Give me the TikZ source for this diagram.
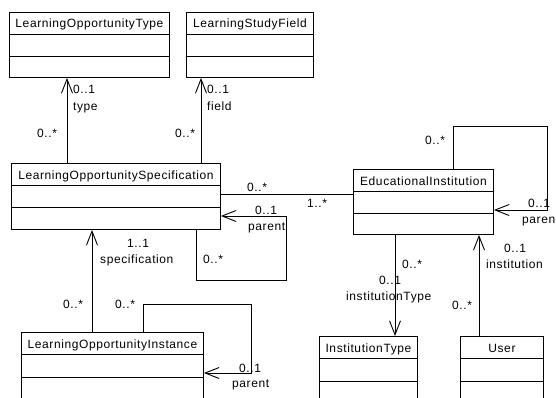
\documentclass[tikz,border=0pt]{standalone}
\usepackage{fontspec}
\setmainfont{Liberation Sans}[LetterSpace=5]
\usetikzlibrary{arrows.meta}
\tikzset{
  clsbox/.style={draw, line width=0.9pt, inner sep=0pt, anchor=north west},
  clstitle/.style={inner sep=0pt, anchor=base, font=\fontsize{12pt}{14pt}\selectfont},
  lbl/.style={inner sep=0pt, anchor=base west, font=\fontsize{12pt}{14pt}\selectfont},
  assoc/.style={draw, line width=0.9pt},
  nav/.style={assoc, -{Straight Barb[length=14pt,width=11pt,line width=0.9pt]}}
}
\newcommand\comp[2]{%
  \draw[line width=0.9pt] ([yshift=-#2pt]#1.north west) -- ([yshift=-#2pt]#1.north east);}
\begin{document}
\begin{tikzpicture}[x=1pt,y=-1pt]
\useasboundingbox (0,0) rectangle (556,398);
\clip (0,0) rectangle (556,398);
% classes
\node[clsbox, minimum width=160pt, minimum height=65pt] (lot) at (9,12) {};
\node[clstitle] at ([yshift=-16pt]lot.north) {LearningOpportunityType};
\comp{lot}{22}\comp{lot}{44}

\node[clsbox, minimum width=127pt, minimum height=65pt] (lsf) at (186,12) {};
\node[clstitle] at ([yshift=-16pt]lsf.north) {LearningStudyField};
\comp{lsf}{22}\comp{lsf}{44}

\node[clsbox, minimum width=209pt, minimum height=66pt] (los) at (11,163) {};
\node[clstitle] at ([yshift=-16pt]los.north) {LearningOpportunitySpecification};
\comp{los}{22}\comp{los}{44}

\node[clsbox, minimum width=140pt, minimum height=65pt] (ei) at (353,169) {};
\node[clstitle] at ([yshift=-16pt]ei.north) {EducationalInstitution};
\comp{ei}{22}\comp{ei}{44}

\node[clsbox, minimum width=182pt, minimum height=70pt] (loi) at (21,332) {};
\node[clstitle] at ([yshift=-16pt]loi.north) {LearningOpportunityInstance};
\comp{loi}{22}\comp{loi}{45}

\node[clsbox, minimum width=98pt, minimum height=70pt] (it) at (319,336) {};
\node[clstitle] at ([yshift=-16pt]it.north) {InstitutionType};
\comp{it}{22}\comp{it}{45}

\node[clsbox, minimum width=83pt, minimum height=70pt] (usr) at (460,336) {};
\node[clstitle] at ([yshift=-16pt]usr.north) {User};
\comp{usr}{22}\comp{usr}{45}

% helper coordinates
\coordinate (xa) at (67,0);
\coordinate (xb) at (201,0);
\coordinate (xc) at (92,0);
\coordinate (xd) at (395,0);
\coordinate (xe) at (479,0);
\coordinate (ylink) at (0,194);
\coordinate (m1) at (196,280);
\coordinate (m2) at (286,216);
\coordinate (n1) at (143,304);
\coordinate (n2) at (251,373);
\coordinate (k1) at (453,126);
\coordinate (k2) at (547,210);

% connectors
\draw[nav] (los.north -| xa) -- (lot.south -| xa);
\draw[nav] (los.north -| xb) -- (lsf.south -| xb);
\draw[assoc] (los.east |- ylink) -- (ei.west |- ylink);
\draw[nav] (los.south -| m1) -- (m1) -| (m2) -- (los.east |- m2);
\draw[nav] (loi.north -| xc) -- (los.south -| xc);
\draw[nav] (loi.north -| n1) -- (n1) -| (n2) -- (loi.east |- n2);
\draw[nav] (ei.north -| k1) -- (k1) -| (k2) -- (ei.east |- k2);
\draw[nav] (ei.south -| xd) -- (it.north -| xd);
\draw[nav] (usr.north -| xe) -- (ei.south -| xe);

% labels
\node[lbl] at (73,94) {0..1};
\node[lbl] at (73,111) {type};
\node[lbl] at (37,138) {0..*};
\node[lbl] at (207,94) {0..1};
\node[lbl] at (207,111) {field};
\node[lbl] at (175,138) {0..*};
\node[lbl] at (247,191) {0..*};
\node[lbl] at (307,207) {1..*};
\node[lbl] at (255,214.5) {0..1};
\node[lbl] at (248,230) {parent};
\node[lbl] at (203,263) {0..*};
\node[lbl] at (127,247) {1..1};
\node[lbl] at (100,263.5) {specification};
\node[lbl] at (63,308) {0..*};
\node[lbl] at (115,308) {0..*};
\node[lbl] at (239,372) {0..1};
\node[lbl] at (232,387) {parent};
\node[lbl] at (425,145) {0..*};
\node[lbl] at (528,207) {0..1};
\node[lbl] at (522,223) {parent};
\node[lbl] at (402,268) {0..*};
\node[lbl] at (379,284) {0..1};
\node[lbl] at (346,300) {institutionType};
\node[lbl] at (504,252) {0..1};
\node[lbl] at (486,268) {institution};
\node[lbl] at (452,309) {0..*};
\end{tikzpicture}
\end{document}
